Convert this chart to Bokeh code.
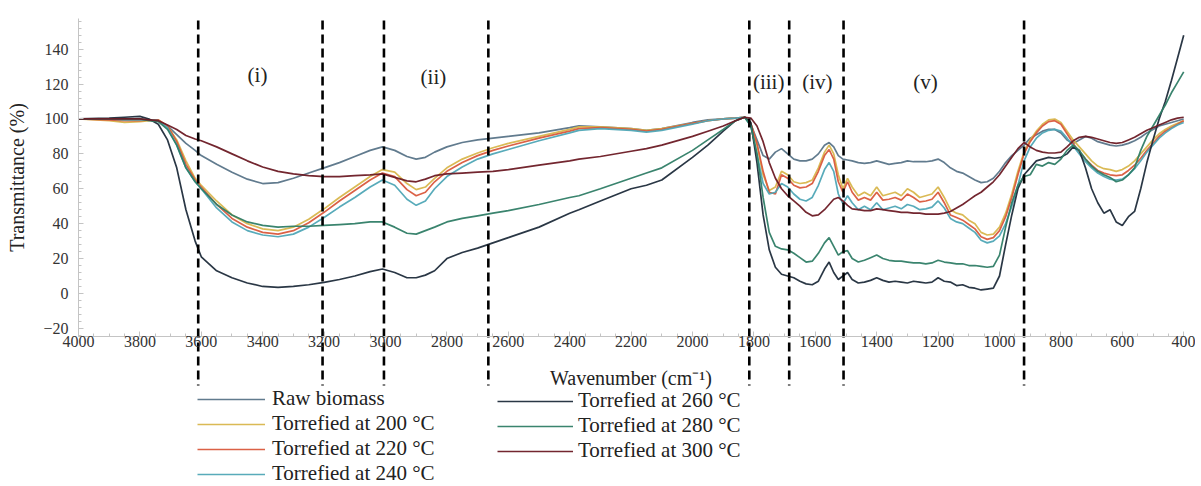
from bokeh.plotting import figure
from bokeh.models import Range1d, SingleIntervalTicker, Legend, LegendItem, Label, ColumnDataSource
from bokeh.embed import file_html
from bokeh.resources import INLINE

# ---------------- data ----------------
W = [4000, 3900, 3850, 3800, 3770, 3740, 3710, 3680, 3650, 3620,
     3600, 3550, 3500, 3450, 3400, 3350, 3300, 3250, 3200, 3150,
     3100, 3050, 3010, 2970, 2930, 2900, 2870, 2840, 2800, 2750,
     2700, 2650, 2600, 2500, 2400, 2370, 2300, 2200, 2150, 2100,
     2000, 1950, 1900, 1860, 1830, 1810, 1790, 1770, 1750, 1730,
     1710, 1690, 1670, 1650, 1630, 1610, 1590, 1570, 1555, 1540,
     1525, 1510, 1495, 1480, 1460, 1440, 1420, 1400, 1380, 1360,
     1340, 1320, 1300, 1280, 1260, 1240, 1220, 1200, 1180, 1160,
     1140, 1120, 1100, 1080, 1060, 1040, 1020, 1000, 980, 960,
     940, 920, 900, 880, 860, 840, 820, 800, 780, 760,
     740, 720, 700, 680, 660, 640, 620, 600, 580, 560,
     540, 520, 500, 480, 460, 440, 420, 400]

RAW = [100, 100, 100, 100, 99.5, 99, 96, 91, 86, 82,
       79, 74, 69.5, 65.5, 63, 63.5, 66, 69, 72, 75,
       78.5, 82, 84, 82, 78.5, 77, 78, 81, 84, 86.5,
       88, 89, 90, 92, 95, 96, 95.5, 94.5, 93.5, 94.5,
       98, 99.5, 100, 100.5, 101, 97, 88, 79, 77, 81,
       83, 80, 77, 76, 76, 77, 80, 85, 86.5, 84,
       79, 77, 76.5, 76, 75, 74.5, 75, 76, 75, 74,
       74.5, 75, 76, 75.5, 75.5, 75.5, 76, 77, 75, 72,
       70, 69, 67, 65, 63.5, 64, 66, 70, 75, 79,
       82, 85, 89, 91, 93, 94, 94, 92, 88, 86,
       88, 90, 89, 87, 86, 85, 84.5, 85, 86, 87.5,
       89.5, 92, 94, 96, 97, 98, 99, 100]

T200 = [100, 99, 98, 98.5, 99, 99.5, 96, 88, 76, 66,
        62, 53, 45, 40, 37, 36, 38, 42.5, 48.5, 55,
        61, 67, 71, 69.5, 63, 59.5, 61, 66, 72, 77,
        80.5, 83.5, 86, 90, 94, 95.5, 95.5, 94.5, 93.5, 94.5,
        97.5, 99, 100, 100.5, 101, 97, 85, 68, 59, 61,
        70, 68, 64, 63, 63.5, 65, 72, 81, 85, 80,
        68, 60, 66, 61, 56, 58, 56, 61, 56, 57,
        58, 56, 60, 58, 55, 56, 57, 61, 55, 48,
        46, 45, 42, 40, 35, 33.5, 34, 38, 46, 57,
        70, 81, 88, 93, 97, 99.5, 100, 98, 93, 88,
        84, 80, 76, 73, 71.5, 71, 70, 71, 73, 76,
        80, 84, 88, 91.5, 94, 96, 97.5, 99]

T220 = [100, 99.5, 99, 99, 99.5, 99.5, 96, 87, 74, 65,
        61, 51, 43, 38, 35, 34, 36, 40.5, 46.5, 53,
        59, 65, 69, 67, 59.5, 56, 58, 64, 70, 75,
        79, 82, 84.5, 89, 93, 94.5, 95, 94, 93, 94,
        97.5, 99, 100, 100.5, 101, 97.5, 86, 70, 58, 57,
        68, 66, 62, 60.5, 61, 63, 70, 79, 82.5, 77,
        64, 58, 64, 58, 53.5, 55, 53.5, 58, 53.5, 54,
        55, 53.5, 57, 55, 52.5, 53, 54, 58, 52, 45,
        43.5, 42, 39.5, 37, 32.5, 31, 32, 36, 44, 55,
        68, 80, 87, 92, 96, 98.5, 99, 97, 91.5, 86,
        81, 77, 73.5, 70.5, 69, 68, 67.5, 68, 70.5, 73.5,
        77.5, 82, 86, 90, 93, 95, 97, 99]

T240 = [100, 100, 99.5, 99.5, 99.5, 99, 95, 85, 72, 64,
        60, 49, 41, 36, 33.5, 32.5, 34, 38, 43.5, 49.5,
        55, 61, 65, 62, 54, 50.5, 53, 60, 67, 72.5,
        77, 80, 82.5, 87.5, 92, 93.5, 94.5, 93.5, 92.5, 93.5,
        97, 99, 100, 100.5, 101, 96, 80, 63, 57, 58,
        63, 61, 57, 54, 53, 55, 62, 71, 75, 70,
        57, 51.5, 56, 52, 48, 50, 48, 52, 48, 49,
        50, 48.5, 51, 50, 48, 48.5, 49.5, 53, 49, 43,
        41, 40, 37.5, 35, 30.5, 29, 30, 33, 40, 50,
        62, 76, 84, 89, 92, 93.5, 94, 93, 89, 84.5,
        80, 75.5, 72, 69, 67, 65.5, 65, 65.5, 68, 71.5,
        76, 81, 85, 89, 92, 94.5, 96.5, 98]

T260 = [100, 100.5, 101, 101.5, 100, 97, 88, 72, 48, 30,
        21, 13, 9, 6, 4, 3.5, 4, 5, 6.3, 8,
        10, 12.5, 14, 12, 9, 9, 10.5, 13, 20, 23.5,
        26, 29, 32, 38, 46, 48, 53, 60, 62, 65,
        78, 85, 93, 99, 101, 98, 75, 45, 25, 15,
        11, 10, 9, 7, 5.5, 5, 7, 14, 18, 12,
        8, 10, 12, 8, 6, 6.5, 7.5, 9, 7.5, 6.5,
        7, 6.5, 6, 7, 6.5, 6, 6.5, 9, 7, 6.5,
        4.5, 5, 3.5, 3, 2, 2.5, 3, 10, 28, 45,
        60, 68, 72, 76, 77, 78, 77.5, 78, 80, 84,
        82, 72, 60, 52, 46, 48, 41, 39, 44, 47,
        60, 75, 88, 100, 110, 122, 135, 148]

T280 = [100, 100, 100, 100, 99, 98.5, 94, 85, 72, 64,
        60, 51, 45, 41, 39, 38, 38.5, 38.5, 39, 39.5,
        40, 41, 41, 38, 34.5, 34, 36, 38, 41, 43,
        44.5, 46, 47.5, 51, 55, 56, 60, 66, 69, 72,
        82, 88, 94, 99, 101, 96, 80, 55, 35, 27,
        25.5, 25, 23, 20.5, 18, 18.5, 23, 29, 32, 27,
        22, 24, 24.5, 20, 18, 19, 20.5, 22, 20, 19,
        18.5, 18.5, 18, 17.5, 17.5, 17, 17.5, 19, 18, 17.5,
        17, 17, 16, 16, 15.5, 15, 15.5, 22, 38, 52,
        62, 67, 68, 74, 73, 75, 74, 77, 82, 85,
        82, 77, 73, 70, 68, 66.5, 64, 65, 68, 72,
        82, 90, 96, 102, 108, 115, 121, 127]

T300 = [100, 100, 100, 100, 99.5, 99, 96.5, 94, 90.5, 88.5,
        87.5, 84, 80, 76, 72.5, 70, 68.5, 67.5, 67, 67,
        67.5, 68, 68.5, 66.5, 64.5, 64, 65.5, 67.5, 68.5, 69,
        69.5, 70, 71, 73.5, 76, 77, 78.5, 81.5, 83, 85,
        90, 93, 96, 99, 101, 100.5, 96, 87, 75, 66,
        60, 56, 53, 50, 46.5, 44.5, 45, 48, 51, 54,
        55, 53, 50.5, 48.5, 48, 47.5, 47.5, 48.5, 48, 47.5,
        47, 46.5, 46.5, 46, 46, 45.5, 45.5, 45.5, 46, 47,
        49, 51, 53.5, 56, 58, 61, 64, 68, 73, 78,
        83, 86.5, 84, 82, 81, 80.5, 80.5, 81, 84, 87.5,
        89.5, 90, 89.5, 88.5, 87.5, 86.5, 86, 86.5, 88, 89.5,
        91.5, 93.5, 95, 96.5, 98, 99.5, 100.5, 101]

SERIES_NAMES = ["Raw biomass", "Torrefied at 200 \u00b0C", "Torrefied at 220 \u00b0C",
                "Torrefied at 240 \u00b0C", "Torrefied at 260 \u00b0C",
                "Torrefied at 280 \u00b0C", "Torrefied at 300 \u00b0C"]
SERIES_VALUES = [RAW, T200, T220, T240, T260, T280, T300]
SERIES_COLORS = ["#587488", "#d8b64c", "#d9583c", "#4fa6b6", "#1f2c3b", "#2f7d66", "#6b1a24"]

DIVIDERS = [3610, 3205, 3005, 2665, 1815, 1685, 1508, 920]
REGION_LABELS = ["(i)", "(ii)", "(iii)", "(iv)", "(v)"]
REGION_X = [3417, 2844, 1752, 1593, 1241]
REGION_Y = [125, 124, 121, 121, 121]

X_TICK_STEP = 200
Y_TICK_STEP = 20

FONT = "Liberation Serif"

# ---------------- figure (frame covers the whole canvas; axes fixed inside) ----------------
p = figure(width=1195, height=484, output_backend="svg", toolbar_location=None,
           x_range=Range1d(4254, 361.6), y_range=Range1d(-109.5, 167.9),
           min_border_left=0, min_border_right=0, min_border_top=0, min_border_bottom=0)
p.grid.visible = False
p.outline_line_color = None
p.background_fill_color = "white"
p.border_fill_color = "white"

X_MIN, X_MAX = 400, 4000
Y_MIN, Y_MAX = -24.6, 157.6

xa = p.xaxis[0]
xa.fixed_location = Y_MIN
xa.bounds = (X_MIN, X_MAX)
xa.ticker = SingleIntervalTicker(interval=X_TICK_STEP, num_minor_ticks=4)
xa.axis_label = "Wavenumber (cm\u207b\u00b9)"
xa.axis_label_text_font = FONT
xa.axis_label_text_font_style = "normal"
xa.axis_label_text_font_size = "20px"
xa.axis_label_text_color = "#222222"
xa.axis_label_standoff = 16
xa.major_label_text_font = FONT
xa.major_label_text_font_size = "16px"
xa.major_label_text_color = "#333333"
xa.major_label_standoff = 0
xa.axis_line_color = "#c4c4c4"
xa.major_tick_line_color = "#c4c4c4"
xa.minor_tick_line_color = "#c4c4c4"
xa.major_tick_in = 5
xa.major_tick_out = 0
xa.minor_tick_in = 3
xa.minor_tick_out = 0

ya = p.yaxis[0]
ya.fixed_location = X_MAX
ya.bounds = (Y_MIN, Y_MAX)
ya.ticker = SingleIntervalTicker(interval=Y_TICK_STEP, num_minor_ticks=5)
ya.axis_label = "Transmittance (%)"
ya.axis_label_text_font = FONT
ya.axis_label_text_font_style = "normal"
ya.axis_label_text_font_size = "20px"
ya.axis_label_text_color = "#222222"
ya.axis_label_standoff = 12
ya.major_label_text_font = FONT
ya.major_label_text_font_size = "16px"
ya.major_label_text_color = "#333333"
ya.major_label_standoff = 10
ya.axis_line_color = "#c4c4c4"
ya.major_tick_line_color = "#c4c4c4"
ya.minor_tick_line_color = "#c4c4c4"
ya.major_tick_in = 5
ya.major_tick_out = 0
ya.minor_tick_in = 3
ya.minor_tick_out = 0

# curves
renderers = []
for name, vals, col in zip(SERIES_NAMES, SERIES_VALUES, SERIES_COLORS):
    src = ColumnDataSource(data=dict(w=W, t=vals))
    r = p.line("w", "t", source=src, line_color=col, line_width=1.7, line_alpha=0.95)
    renderers.append((name, r))

# dashed dividers
p.segment(x0=DIVIDERS, x1=DIVIDERS, y0=[156.4] * len(DIVIDERS), y1=[-52.7] * len(DIVIDERS),
          line_color="black", line_width=2.6, line_dash="9 5")

# region labels
for t, x, y in zip(REGION_LABELS, REGION_X, REGION_Y):
    p.add_layout(Label(x=x, y=y, text=t, text_align="center", text_baseline="middle",
                       text_font=FONT, text_font_size="21px", text_color="#222222"))

# legends (two columns)
def make_legend(items, loc, glyph_w, standoff):
    return Legend(items=[LegendItem(label=n, renderers=[r]) for n, r in items],
                  location=loc, orientation="vertical",
                  label_text_font=FONT, label_text_font_size="21px", label_text_color="#222222",
                  glyph_width=glyph_w, glyph_height=20, label_height=20, label_standoff=standoff,
                  spacing=-1, padding=0, margin=0,
                  border_line_alpha=0, background_fill_alpha=0)

p.add_layout(make_legend(renderers[:4], (197, -2), 68, 7))
p.add_layout(make_legend(renderers[4:], (497, 21), 76, 5))

open("out.html", "w").write(file_html(p, INLINE))
